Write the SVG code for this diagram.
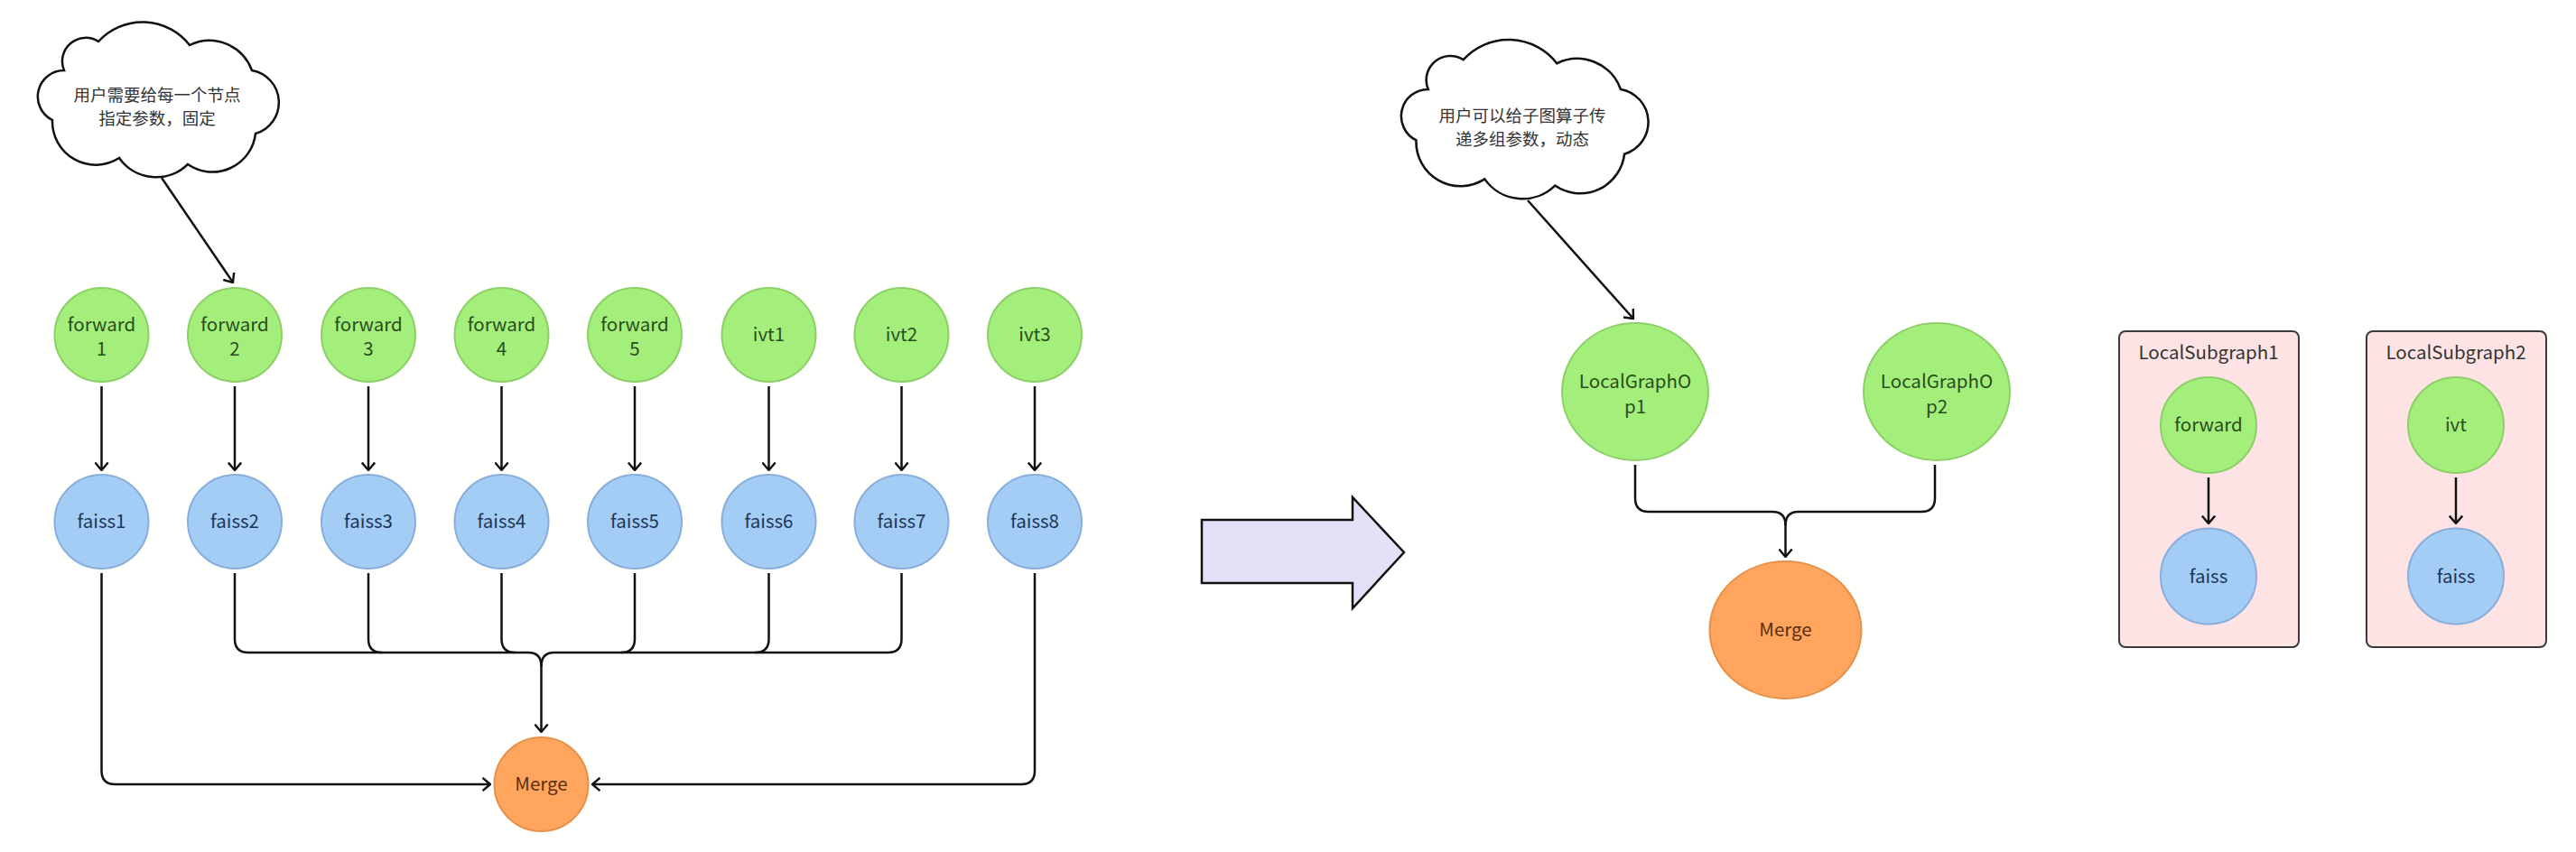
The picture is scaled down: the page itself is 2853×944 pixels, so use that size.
<svg xmlns="http://www.w3.org/2000/svg" width="2853" height="944" viewBox="0 0 2853 944">
<style>
text{font-family:"Noto Sans CJK SC","Noto Sans",sans-serif;text-anchor:middle}
.lbl{font-size:20.5px}
.g{fill:#a4ef7b;stroke:#8ccf69;stroke-width:2}
.b{fill:#a4cdf5;stroke:#88aedb;stroke-width:2}
.o{fill:#ffa55e;stroke:#e5914b;stroke-width:2}
.gt{fill:#2a4d1c}
.bt{fill:#1e3658}
.ot{fill:#5a3010}
.cloud{fill:#fff;stroke:#111;stroke-width:2.5}
.ct{font-size:18.5px;fill:#333}
.c{fill:none;stroke:#111;stroke-width:2.5}
.a{marker-end:url(#ah)}
.box{fill:#fde3e3;stroke:#3a3a3a;stroke-width:2}
.bx{font-size:20.5px;fill:#333}
</style>
<defs>
<marker id="ah" markerUnits="userSpaceOnUse" viewBox="0 0 10 16" markerWidth="10" markerHeight="16" refX="9" refY="8" orient="auto">
<path d="M0.5,0.8 L9,8 L0.5,15.2" fill="none" stroke="#111" stroke-width="2.4"/>
</marker>
<path id="cloudShape" d="M109,46 A66,66 0 0 1 210,50 A50,50 0 0 1 279,78 A36,36 0 0 1 283,148 A48,48 0 0 1 208,182 A50,50 0 0 1 132,175 A48,48 0 0 1 58,133 A29,29 0 0 1 71,78 A26,26 0 0 1 109,46 Z"/>
</defs>
<rect width="2853" height="944" fill="#fffffd"/>

<g id="cloud1">
<use href="#cloudShape" class="cloud"/>
<text class="ct" x="174" y="111.5">用户需要给每一个节点</text>
<text class="ct" x="174" y="137.5">指定参数，固定</text>
</g>

<g id="cloud2">
<use href="#cloudShape" class="cloud" transform="translate(1509,19) scale(1.025)"/>
<text class="ct" x="1686" y="134.5">用户可以给子图算子传</text>
<text class="ct" x="1686" y="160.5">递多组参数，动态</text>
</g>

<g id="forward1"><circle class="g" cx="112.5" cy="371" r="52"/><text class="lbl gt" x="112.5" y="367">forward</text><text class="lbl gt" x="112.5" y="394">1</text></g>
<g id="forward2"><circle class="g" cx="260" cy="371" r="52"/><text class="lbl gt" x="260" y="367">forward</text><text class="lbl gt" x="260" y="394">2</text></g>
<g id="forward3"><circle class="g" cx="408" cy="371" r="52"/><text class="lbl gt" x="408" y="367">forward</text><text class="lbl gt" x="408" y="394">3</text></g>
<g id="forward4"><circle class="g" cx="555.5" cy="371" r="52"/><text class="lbl gt" x="555.5" y="367">forward</text><text class="lbl gt" x="555.5" y="394">4</text></g>
<g id="forward5"><circle class="g" cx="703" cy="371" r="52"/><text class="lbl gt" x="703" y="367">forward</text><text class="lbl gt" x="703" y="394">5</text></g>
<g id="ivt1"><circle class="g" cx="851.5" cy="371" r="52"/><text class="lbl gt" x="851.5" y="378">ivt1</text></g>
<g id="ivt2"><circle class="g" cx="998.5" cy="371" r="52"/><text class="lbl gt" x="998.5" y="378">ivt2</text></g>
<g id="ivt3"><circle class="g" cx="1146" cy="371" r="52"/><text class="lbl gt" x="1146" y="378">ivt3</text></g>

<g id="faiss1"><circle class="b" cx="112.5" cy="578" r="52"/><text class="lbl bt" x="112.5" y="585">faiss1</text></g>
<g id="faiss2"><circle class="b" cx="260" cy="578" r="52"/><text class="lbl bt" x="260" y="585">faiss2</text></g>
<g id="faiss3"><circle class="b" cx="408" cy="578" r="52"/><text class="lbl bt" x="408" y="585">faiss3</text></g>
<g id="faiss4"><circle class="b" cx="555.5" cy="578" r="52"/><text class="lbl bt" x="555.5" y="585">faiss4</text></g>
<g id="faiss5"><circle class="b" cx="703" cy="578" r="52"/><text class="lbl bt" x="703" y="585">faiss5</text></g>
<g id="faiss6"><circle class="b" cx="851.5" cy="578" r="52"/><text class="lbl bt" x="851.5" y="585">faiss6</text></g>
<g id="faiss7"><circle class="b" cx="998.5" cy="578" r="52"/><text class="lbl bt" x="998.5" y="585">faiss7</text></g>
<g id="faiss8"><circle class="b" cx="1146" cy="578" r="52"/><text class="lbl bt" x="1146" y="585">faiss8</text></g>

<g id="merge1"><circle class="o" cx="599.5" cy="869" r="52"/><text class="lbl ot" x="599.5" y="876">Merge</text></g>

<g id="bigArrow"><polygon points="1331,576 1498,576 1498,551 1555,612 1498,674 1498,646 1331,646" fill="#e4e0f8" stroke="#111" stroke-width="2.5" stroke-linejoin="miter"/></g>

<g id="localGraphOp1"><ellipse class="g" cx="1811" cy="434" rx="81" ry="76"/><text class="lbl gt" x="1811" y="430">LocalGraphO</text><text class="lbl gt" x="1811" y="458">p1</text></g>
<g id="localGraphOp2"><ellipse class="g" cx="2145" cy="434" rx="81" ry="76"/><text class="lbl gt" x="2145" y="430">LocalGraphO</text><text class="lbl gt" x="2145" y="458">p2</text></g>
<g id="merge2"><ellipse class="o" cx="1977.5" cy="698" rx="84" ry="76"/><text class="lbl ot" x="1977.5" y="705">Merge</text></g>

<g id="localSubgraph1">
<rect class="box" x="2347" y="367" width="199" height="350" rx="7"/>
<text class="bx" x="2446" y="398">LocalSubgraph1</text>
<g id="sg1_forward"><circle class="g" cx="2446" cy="471" r="53"/><text class="lbl gt" x="2446" y="478">forward</text></g>
<g id="sg1_faiss"><circle class="b" cx="2446" cy="638.5" r="53"/><text class="lbl bt" x="2446" y="645.5">faiss</text></g>
</g>
<g id="localSubgraph2">
<rect class="box" x="2621" y="367" width="199" height="350" rx="7"/>
<text class="bx" x="2720" y="398">LocalSubgraph2</text>
<g id="sg2_ivt"><circle class="g" cx="2720" cy="471" r="53"/><text class="lbl gt" x="2720" y="478">ivt</text></g>
<g id="sg2_faiss"><circle class="b" cx="2720" cy="638.5" r="53"/><text class="lbl bt" x="2720" y="645.5">faiss</text></g>
</g>

<g id="connectors">
<path class="c a" d="M179,197 L258,313"/>
<path class="c a" d="M112.5,428 V521"/>
<path class="c a" d="M260,428 V521"/>
<path class="c a" d="M408,428 V521"/>
<path class="c a" d="M555.5,428 V521"/>
<path class="c a" d="M703,428 V521"/>
<path class="c a" d="M851.5,428 V521"/>
<path class="c a" d="M998.5,428 V521"/>
<path class="c a" d="M1146,428 V521"/>
<path class="c a" d="M112.5,635 V854 Q112.5,869 127.5,869 H543"/>
<path class="c a" d="M1146,635 V854 Q1146,869 1131,869 H656"/>
<path class="c" d="M260,635 V708 Q260,723 275,723 H585 Q599.5,723 599.5,738"/>
<path class="c" d="M998.5,635 V708 Q998.5,723 983.5,723 H614 Q599.5,723 599.5,738"/>
<path class="c" d="M408,635 V708 Q408,723 423,723"/>
<path class="c" d="M555.5,635 V708 Q555.5,723 570.5,723"/>
<path class="c" d="M703,635 V708 Q703,723 688,723"/>
<path class="c" d="M851.5,635 V708 Q851.5,723 836.5,723"/>
<path class="c a" d="M599.5,736 V811"/>
<path class="c a" d="M1692,222 L1809,353"/>
<path class="c" d="M1811,515 V552 Q1811,567 1826,567 H1963 Q1977.5,567 1977.5,582"/>
<path class="c" d="M2143,515 V552 Q2143,567 2128,567 H1992 Q1977.5,567 1977.5,582"/>
<path class="c a" d="M1977.5,580 V617"/>
<path class="c a" d="M2446,529 V580"/>
<path class="c a" d="M2720,529 V580"/>
</g>
</svg>
